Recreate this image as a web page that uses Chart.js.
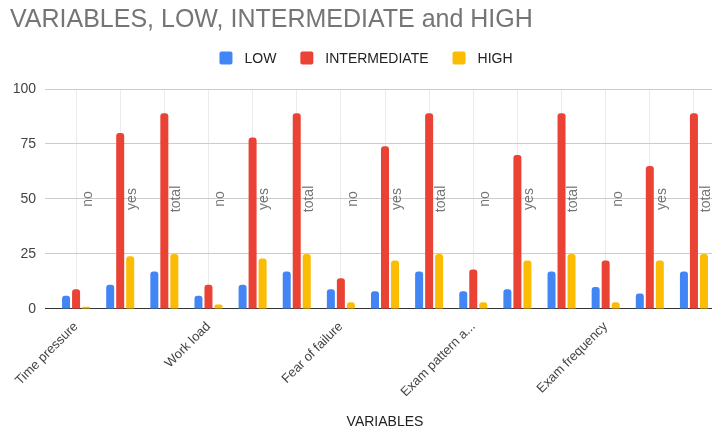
<!DOCTYPE html>
<html>
<head>
<meta charset="utf-8">
<script src="https://cdn.jsdelivr.net/npm/chart.js@4.4.1/dist/chart.umd.min.js"></script>
<style>
  html, body { margin: 0; padding: 0; background: #fff; overflow: hidden; }
  #wrap { width: 722px; height: 429px; }
</style>
</head>
<body>
<div id="wrap"><canvas id="myChart"></canvas></div>
<script>
"use strict";

// Variables and the response rows under each one
const VARIABLES = ["Time pressure", "Work load", "Fear of failure", "Exam pattern a...", "Exam frequency"];
const RESPONSES = ["no", "yes", "total"];

// Series values, one per (variable, response) pair in order
const LOW          = [6, 11, 17,  6, 11, 17,  9,  8, 17,  8,  9, 17, 10,  7, 17];
const INTERMEDIATE = [9, 80, 89, 11, 78, 89, 14, 74, 89, 18, 70, 89, 22, 65, 89];
const HIGH         = [1, 24, 25,  2, 23, 25,  3, 22, 25,  3, 22, 25,  3, 22, 25];

const Y_TICKS = [0, 25, 50, 75, 100];

// Build the flat category list: the variable name sits on the first row of each group
const labels = [];
const subLabels = [];
VARIABLES.forEach(v => {
  RESPONSES.forEach((r, i) => {
    labels.push(i === 0 ? v : "");
    subLabels.push(r);
  });
});

const FONT = "'Liberation Sans', Arial, sans-serif";

// Draws the no / yes / total names upright inside the plot
const subLabelPlugin = {
  id: "subLabels",
  afterDatasetsDraw(chart) {
    const ctx = chart.ctx;
    const xs = chart.scales.x;
    const ys = chart.scales.y;
    ctx.save();
    ctx.font = "14px " + FONT;
    ctx.fillStyle = "#757575";
    ctx.textAlign = "center";
    ctx.textBaseline = "middle";
    subLabels.forEach((txt, i) => {
      const x = xs.getPixelForValue(i) + 12;
      const y = ys.getPixelForValue(50);
      ctx.save();
      ctx.translate(x, y);
      ctx.rotate(-Math.PI / 2);
      ctx.fillText(txt, 0, 0);
      ctx.restore();
    });
    ctx.restore();
  }
};

// Legend row under the title (square swatch + name, centred)
const legendPlugin = {
  id: "legendRow",
  afterDraw(chart) {
    const ctx = chart.ctx;
    const box = 13, gapText = 12, gapItem = 24, y = 58;
    ctx.save();
    ctx.font = "14px " + FONT;
    const items = chart.data.datasets.map(ds => ({
      text: ds.label, color: ds.backgroundColor, w: ctx.measureText(ds.label).width
    }));
    const total = items.reduce((s, it) => s + box + gapText + it.w, 0) + gapItem * (items.length - 1);
    let x = chart.width / 2 + 5 - total / 2;
    ctx.textBaseline = "middle";
    ctx.textAlign = "left";
    items.forEach(it => {
      ctx.fillStyle = it.color;
      ctx.beginPath();
      ctx.roundRect(x, y - box / 2, box, box, 2);
      ctx.fill();
      x += box + gapText;
      ctx.fillStyle = "#222";
      ctx.fillText(it.text, x, y + 1);
      x += it.w + gapItem;
    });
    ctx.restore();
  }
};

const barStyle = {
  categoryPercentage: 0.68,
  barPercentage: 0.8,
  borderRadius: { topLeft: 3, topRight: 3, bottomLeft: 0, bottomRight: 0 },
  borderSkipped: "start"
};

const data = {
  labels: labels,
  datasets: [
    Object.assign({ label: "LOW", data: LOW, backgroundColor: "#4285F4" }, barStyle),
    Object.assign({ label: "INTERMEDIATE", data: INTERMEDIATE, backgroundColor: "#EA4335" }, barStyle),
    Object.assign({ label: "HIGH", data: HIGH, backgroundColor: "#FBBC04" }, barStyle)
  ]
};

const config = {
  type: "bar",
  data: data,
  plugins: [subLabelPlugin, legendPlugin],
  options: {
    responsive: true,
    maintainAspectRatio: false,
    animation: false,
    layout: { padding: { left: 10, right: 6, top: 0, bottom: 0 } },
    plugins: {
      title: {
        display: true,
        text: "VARIABLES, LOW, INTERMEDIATE and HIGH",
        align: "start",
        color: "#757575",
        font: { family: FONT, size: 25, weight: "normal" },
        padding: { top: 5, bottom: 54 }
      },
      legend: { display: false },
      tooltip: { enabled: false }
    },
    scales: {
      x: {
        offset: true,
        // rotated first label may hang past the y axis; don't let it push the plot right
        afterFit: s => { s.paddingLeft = 0; },
        grid: {
          offset: false,
          color: "#ebebeb",
          drawTicks: false
        },
        border: { display: true, color: "#333", width: 1 },
        ticks: {
          autoSkip: false,
          minRotation: 45,
          maxRotation: 45,
          padding: 10,
          color: "#444",
          font: { family: FONT, size: 13 }
        },
        title: {
          display: true,
          text: "VARIABLES",
          color: "#222",
          font: { family: FONT, size: 14, lineHeight: 1 },
          padding: { top: 5, bottom: 0 }
        }
      },
      y: {
        min: 0,
        max: 100,
        afterBuildTicks: axis => {
          axis.ticks = Y_TICKS.map(v => ({ value: v }));
        },
        afterFit: s => { s.width = 44; },
        grid: {
          color: c => (c.tick && c.tick.value === 0 ? "#333" : "#cccccc"),
          tickLength: 9
        },
        border: { display: false },
        ticks: {
          padding: 9,
          color: "#444",
          font: { family: FONT, size: 14 }
        }
      }
    }
  }
};

new Chart(document.getElementById("myChart"), config);
</script>
</body>
</html>
